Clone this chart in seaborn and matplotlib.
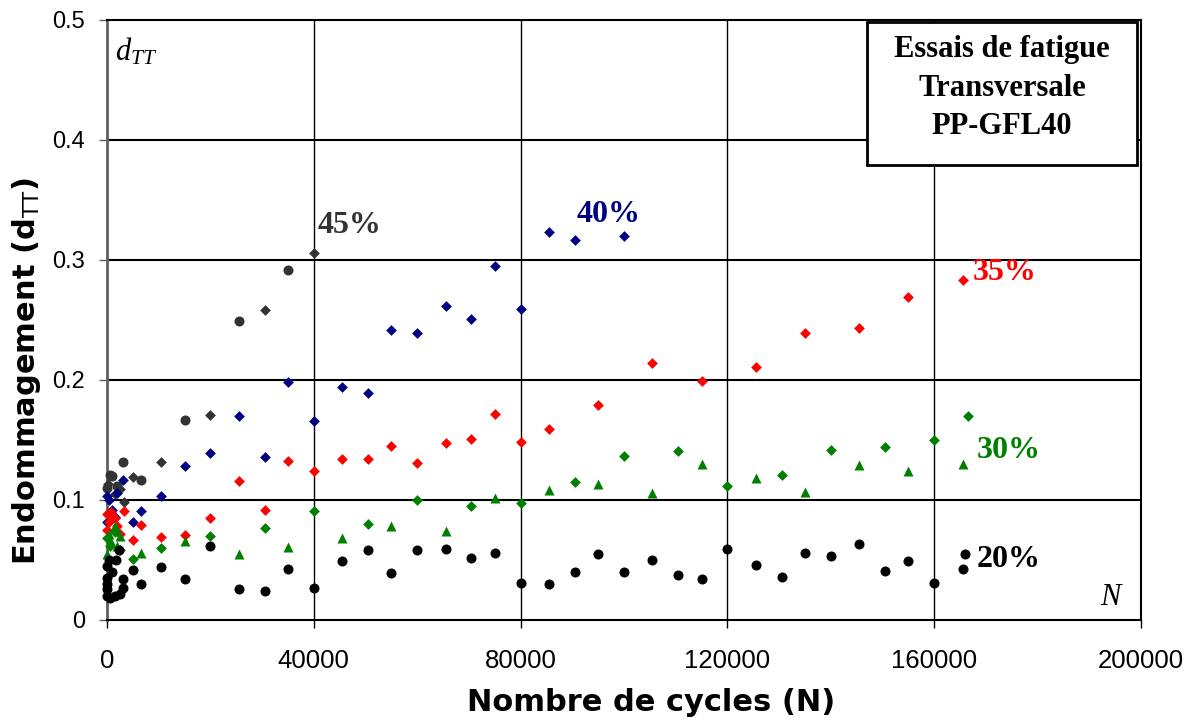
import numpy as np
import pandas as pd
import seaborn as sns
import matplotlib.pyplot as plt
from matplotlib.patches import Rectangle

# ----------------- data

# 20 % : black circles
n20 = [0, 0, 0, 0, 0, 300, 500, 1000, 1500, 1800, 2400, 2500, 3000, 3000,
       5000, 6500, 10500, 15000, 20000, 25500, 30500, 35000, 40000, 45500,
       50500, 55000, 60000, 65500, 70500, 75000, 80000, 85500, 90500, 95000,
       100000, 105500, 110500, 115000, 120000, 125500, 130500, 135000, 140000,
       145500, 150500, 155000, 160000, 165500, 166000]
d20 = [0.045, 0.035, 0.026, 0.020, 0.030, 0.050, 0.018, 0.040, 0.020, 0.050,
       0.058, 0.022, 0.034, 0.027,
       0.042, 0.030, 0.044, 0.034, 0.062, 0.026, 0.024, 0.0425, 0.027, 0.049,
       0.0586, 0.039, 0.058, 0.059, 0.0514, 0.0556, 0.031, 0.030, 0.040, 0.055,
       0.040, 0.050, 0.0375, 0.0345, 0.059, 0.0455, 0.036, 0.056, 0.053,
       0.063, 0.041, 0.049, 0.031, 0.0425, 0.055]

# 30 % : green diamonds and green triangles
n30_d = [0, 500, 1500, 2500, 5000, 10500, 20000, 30500, 40000, 50500, 60000,
         70500, 80000, 90500, 100000, 110500, 120000, 130500, 140000, 150500,
         160000, 166500]
d30_d = [0.068, 0.062, 0.073, 0.058, 0.051, 0.060, 0.070, 0.077, 0.091, 0.080,
         0.100, 0.095, 0.0975, 0.115, 0.137, 0.141, 0.112, 0.121, 0.142, 0.144,
         0.150, 0.170]
n30_t = [0, 300, 800, 1500, 2000, 2500, 6500, 15000, 25500, 35000, 45500,
         55000, 65500, 75000, 85500, 95000, 105500, 115000, 125500, 135000,
         145500, 155000, 165500]
d30_t = [0.055, 0.072, 0.065, 0.078, 0.062, 0.070, 0.056, 0.066, 0.055, 0.061,
         0.068, 0.078, 0.074, 0.102, 0.108, 0.113, 0.106, 0.130, 0.118, 0.107,
         0.129, 0.124, 0.130]

# 35 % : red diamonds
n35 = [0, 0, 300, 800, 1500, 2000, 2500, 3300, 5000, 6500, 10500, 15000,
       20000, 25500, 30500, 35000, 40000, 45500, 50500, 55000, 60000, 65500,
       70500, 75000, 80000, 85500, 95000, 105500, 115000, 125500, 135000,
       145500, 155000, 165500]
d35 = [0.075, 0.088, 0.082, 0.090, 0.085, 0.078, 0.072, 0.091, 0.067, 0.079,
       0.069, 0.071, 0.085, 0.116, 0.092, 0.1325, 0.124, 0.134, 0.134, 0.145,
       0.131, 0.1475, 0.151, 0.172, 0.148, 0.159, 0.179, 0.214, 0.199, 0.211,
       0.239, 0.243, 0.269, 0.283]

# 40 % : navy diamonds
n40 = [0, 0, 300, 900, 1500, 2000, 3000, 5000, 6500, 10500, 15000, 20000,
       25500, 30500, 35000, 40000, 45500, 50500, 55000, 60000, 65500, 70500,
       75000, 80000, 85500, 90500, 100000]
d40 = [0.103, 0.082, 0.100, 0.092, 0.086, 0.106, 0.117, 0.082, 0.091, 0.103,
       0.128, 0.139, 0.170, 0.136, 0.198, 0.166, 0.194, 0.189, 0.242, 0.239,
       0.262, 0.251, 0.295, 0.259, 0.323, 0.317, 0.320]

# 45 % : dark grey circles and diamonds
n45_c = [0, 500, 1000, 2000, 3000, 6500, 15000, 25500, 35000]
d45_c = [0.110, 0.121, 0.120, 0.112, 0.132, 0.117, 0.167, 0.249, 0.292]
n45_d = [200, 1500, 2500, 3300, 5000, 10500, 20000, 30500, 40000]
d45_d = [0.113, 0.105, 0.109, 0.098, 0.119, 0.132, 0.171, 0.258, 0.306]

x_ticks = [0, 40000, 80000, 120000, 160000, 200000]
y_ticks = [0, 0.1, 0.2, 0.3, 0.4, 0.5]

# ----------------- plot

sns.set_style("white")
plt.rcParams["font.family"] = ["Liberation Sans", "DejaVu Sans"]
plt.rcParams["text.color"] = "black"
plt.rcParams["axes.labelcolor"] = "black"
plt.rcParams["xtick.labelcolor"] = "black"
plt.rcParams["ytick.labelcolor"] = "black"
plt.rcParams["mathtext.fontset"] = "custom"
plt.rcParams["mathtext.rm"] = "DejaVu Sans"
plt.rcParams["mathtext.bf"] = "DejaVu Sans:bold"
plt.rcParams["mathtext.it"] = "Liberation Serif:italic"

fig = plt.figure(figsize=(11.93, 7.24), dpi=100)
ax = fig.add_axes([107 / 1193, 1 - 620 / 724, (1141 - 107) / 1193, 600 / 724])

grey45 = "#333333"
series = [
    (n45_c, d45_c, grey45, "o", 52),
    (n45_d, d45_d, grey45, "D", 30),
    (n40, d40, "#000080", "D", 30),
    (n35, d35, "#ff0000", "D", 30),
    (n30_d, d30_d, "#008000", "D", 30),
    (n30_t, d30_t, "#008000", "^", 52),
    (n20, d20, "black", "o", 52),
]
for xs, ys, col, mk, size in series:
    sns.scatterplot(x=xs, y=ys, color=col, marker=mk, s=size,
                    linewidth=0, ax=ax, zorder=3, clip_on=False)

ax.set_xlim(0, 200000)
ax.set_ylim(0, 0.5)
ax.set_xticks(x_ticks)
ax.set_yticks(y_ticks)
ax.set_xticklabels([str(v) for v in x_ticks])
ax.set_yticklabels(["0", "0.1", "0.2", "0.3", "0.4", "0.5"])

for v in y_ticks[1:-1]:
    ax.axhline(v, color="black", lw=1.5, zorder=1)
for v in x_ticks[1:-1]:
    ax.axvline(v, color="black", lw=1.0, zorder=1)

for side in ["top", "right", "bottom"]:
    ax.spines[side].set_color("black")
    ax.spines[side].set_linewidth(1.5)
ax.spines["left"].set_color("#606060")
ax.spines["left"].set_linewidth(2)

ax.tick_params(axis="x", direction="out", length=6, width=1, color="black",
               labelsize=18.5, pad=15, bottom=True)
ax.tick_params(axis="y", direction="out", length=6, width=1, color="#606060",
               labelsize=17, pad=10, left=True)

ax.set_xlabel("Nombre de cycles (N)", fontsize=22, fontweight="bold",
              family="DejaVu Sans")
ax.xaxis.set_label_coords(0.526, -0.113)
ax.set_ylabel(r"Endommagement ($\mathbf{d}_{\mathrm{TT}}$)", fontsize=22,
              fontweight="bold", family="DejaVu Sans")
ax.yaxis.set_label_coords(-0.062, 0.415)

# series labels
lbl_font = dict(family="Liberation Serif", fontweight="bold", fontsize=23,
                va="center", ha="left")
ax.text(40800, 0.329, "45%", color=grey45, **lbl_font)
ax.text(90900, 0.338, "40%", color="#000080", **lbl_font)
ax.text(167400, 0.290, "35%", color="#ff0000", **lbl_font)
ax.text(168300, 0.141, "30%", color="#008000", **lbl_font)
ax.text(168300, 0.0505, "20%", color="black", **lbl_font)

ax.text(0.008, 0.947, r"$d_{TT}$", transform=ax.transAxes, fontsize=22,
        va="center", ha="left")
ax.text(0.970, 0.037, "N", transform=ax.transAxes, fontsize=22,
        family="Liberation Serif", style="italic", va="center", ha="center")

# title box
fig.patches.append(Rectangle((867 / 1193, 1 - 165 / 724), 270 / 1193,
                             143 / 724, transform=fig.transFigure,
                             facecolor="white", edgecolor="black", lw=2,
                             zorder=5))
for txt, ypx in [("Essais de fatigue", 50), ("Transversale", 88),
                 ("PP-GFL40", 127)]:
    fig.text(1002 / 1193, 1 - ypx / 724, txt, family="Liberation Serif",
             fontweight="bold", fontsize=22, ha="center", va="center",
             zorder=6)

fig.savefig("out.png", dpi=100)
